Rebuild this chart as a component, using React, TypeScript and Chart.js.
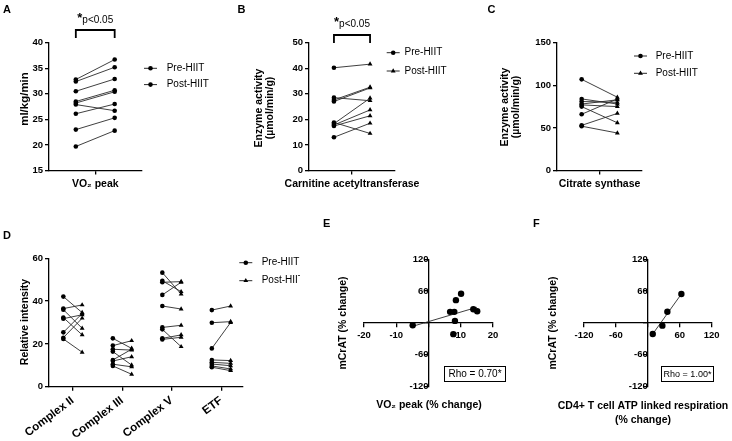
import React, { useEffect, useRef } from 'react';
import { Chart, registerables } from 'chart.js';

Chart.register(...registerables);

const FONT = "'Liberation Sans', Arial, Helvetica, sans-serif";
const INK = '#000';
const LINK = '#2a2a2a';
Chart.defaults.font.family = FONT;
Chart.defaults.color = INK;

// ---------------- data ----------------
const seriesNames = ['Pre-HIIT', 'Post-HIIT'];
const pText = 'p<0.05';

const vo2Category = ['VO₂ peak'];
const vo2Pre = [32.8, 32.4, 30.5, 28.5, 28.2, 27.9, 26.1, 23.0, 19.7];
const vo2Post = [36.7, 35.2, 32.9, 30.7, 30.4, 26.7, 28.0, 25.3, 22.8];
const vo2Axis = [15, 40, 5];

const catCategory = ['Carnitine acetyltransferase'];
const catPre = [40.2, 28.5, 27.6, 27.0, 18.8, 18.3, 17.8, 17.4, 13.0];
const catPost = [41.6, 27.3, 32.6, 32.3, 14.5, 28.3, 23.7, 21.4, 18.5];
const catAxis = [0, 50, 10];

const csCategory = ['Citrate synthase'];
const csPre = [107, 84, 81, 78, 77, 75, 66, 53, 52];
const csPost = [86, 78, 80, 83, 75, 56, 84, 67, 44];
const csAxis = [0, 150, 50];

const complexCategories = ['Complex II', 'Complex III', 'Complex V', 'ETF'];
const c2Pre = [42.1, 36.5, 36.0, 32.3, 31.8, 25.4, 22.9, 22.3];
const c2Post = [34.6, 38.2, 27.3, 24.2, 33.6, 34.2, 32.0, 16.1];
const c3Pre = [22.6, 19.2, 17.5, 16.4, 12.5, 12.0, 10.5, 9.7];
const c3Post = [17.9, 21.5, 17.1, 10.1, 17.5, 14.0, 9.3, 5.8];
const c5Pre = [53.3, 49.5, 48.8, 42.9, 37.7, 27.7, 26.8, 22.6, 22.1];
const c5Post = [43.3, 44.4, 49.1, 48.8, 36.3, 28.7, 18.7, 24.2, 23.1];
const etfPre = [35.8, 29.9, 17.9, 12.5, 11.4, 10.6, 9.7, 9.1];
const etfPost = [37.7, 30.4, 30.0, 12.2, 10.9, 9.8, 8.3, 7.5];
const complexAxis = [0, 60, 20];

const eVo2Change = [-4.9, 6.7, 8.0, 8.5, 10.1, 8.2, 7.7, 13.9, 15.1];
const eMcratChange = [-4.3, 21, 21, 43, 55, 4, -21, 26, 22];
const eFitX = [-4.8, 15];
const eFitY = [-6, 29.6];
const eAxisX = [-20, 20, 10];
const eRho = 'Rho = 0.70*';

const fAtpChange = [9.2, 27.3, 36.7, 63];
const fMcratChange = [-20.7, -5, 21.3, 54.6];
const fFitX = [9.2, 63];
const fFitY = [-20.7, 54.6];
const fAxisX = [-120, 120, 60];
const corrAxisY = [-120, 120, 60];
const fRho = 'Rho = 1.00*';

// ---------------- layout ----------------
const GEOM = [
  { left: 0, top: 0, width: 236, height: 200 },
  { left: 236, top: 0, width: 250, height: 200 },
  { left: 486, top: 0, width: 246, height: 200 },
  { left: 0, top: 200, width: 300, height: 241 },
  { left: 300, top: 200, width: 210, height: 241 },
  { left: 510, top: 200, width: 222, height: 241 },
];
const OFF = 0.21;
const OFF_D = 0.19;

// ---------------- helpers ----------------
function txt(ctx: any, s: string, x: number, y: number, o: any = {}) {
  const { size = 10, bold = false, align = 'center', rot = 0 } = o;
  ctx.save();
  ctx.translate(x, y);
  if (rot) ctx.rotate(rot);
  ctx.font = `${bold ? 'bold ' : ''}${size}px ${FONT}`;
  ctx.fillStyle = INK;
  ctx.textAlign = align;
  ctx.textBaseline = 'middle';
  ctx.fillText(s, 0, 0);
  ctx.restore();
}

function marker(ctx: any, style: string, x: number, y: number, r: number) {
  ctx.beginPath();
  if (style === 'triangle') {
    ctx.moveTo(x, y - r);
    ctx.lineTo(x + 0.866 * r, y + 0.5 * r);
    ctx.lineTo(x - 0.866 * r, y + 0.5 * r);
    ctx.closePath();
  } else {
    ctx.arc(x, y, r, 0, Math.PI * 2);
  }
  ctx.fillStyle = INK;
  ctx.fill();
}

function legendRows(ctx: any, x: number, y: number, gap: number, styles: string[], textX: number) {
  seriesNames.forEach((name, i) => {
    const yy = y + i * gap;
    ctx.strokeStyle = LINK;
    ctx.lineWidth = 1;
    ctx.beginPath();
    ctx.moveTo(x, yy);
    ctx.lineTo(x + 13, yy);
    ctx.stroke();
    marker(ctx, styles[i], x + 6.5, yy, styles[i] === 'triangle' ? 2.8 : 2.3);
    txt(ctx, name, textX, yy, { size: 10, align: 'left' });
  });
}

function sigBracket(ctx: any, x1: number, x2: number, yTop: number, yBot: number, yText: number) {
  ctx.strokeStyle = INK;
  ctx.lineWidth = 1.8;
  ctx.beginPath();
  ctx.moveTo(x1, yBot);
  ctx.lineTo(x1, yTop);
  ctx.lineTo(x2, yTop);
  ctx.lineTo(x2, yBot);
  ctx.stroke();
  ctx.font = `10px ${FONT}`;
  const w = ctx.measureText(pText).width;
  ctx.font = `bold 13px ${FONT}`;
  const ws = ctx.measureText('*').width;
  const start = (x1 + x2) / 2 - (w + ws) / 2;
  txt(ctx, '*', start, yText - 1, { size: 13, bold: true, align: 'left' });
  txt(ctx, pText, start + ws, yText + 1, { size: 10, align: 'left' });
}

function rhoBox(ctx: any, x1: number, y1: number, x2: number, y2: number, label: string, size: number) {
  ctx.strokeStyle = INK;
  ctx.lineWidth = 1;
  ctx.strokeRect(x1 + 0.5, y1 + 0.5, x2 - x1, y2 - y1);
  txt(ctx, label, (x1 + x2) / 2 + 0.5, (y1 + y2) / 2 + 1, { size });
}

function decor(g: any, draw: (ctx: any, chart: any) => void) {
  return {
    id: 'decor',
    afterDraw(chart: any) {
      const ctx = chart.ctx;
      ctx.save();
      ctx.translate(-g.left, -g.top);
      draw(ctx, chart);
      ctx.restore();
    },
  };
}

const gridOpts = () => ({ display: true, drawOnChartArea: false, drawTicks: true, tickLength: 4, color: INK, lineWidth: 1.3 });
const borderOpts = () => ({ display: true, color: INK, width: 1.3 });
const tickFont = (size = 9.5) => ({ family: FONT, size, weight: 'bold' });

function valueAxis(ax: number[], width: number) {
  return {
    type: 'linear', position: 'left', min: ax[0], max: ax[1],
    ticks: { stepSize: ax[2], color: INK, font: tickFont(), padding: 2 },
    grid: gridOpts(), border: borderOpts(),
    afterFit: (s: any) => { s.width = width; },
  };
}

function categoryAxis(labels: string[], min: number, max: number, height: number, rotation: number, size: number) {
  return {
    type: 'linear', position: 'bottom', min, max,
    afterBuildTicks: (s: any) => { s.ticks = labels.map((_l, i) => ({ value: i })); },
    ticks: {
      autoSkip: false, minRotation: rotation, maxRotation: rotation, color: INK, font: tickFont(size), padding: 3,
      callback: (_v: any, i: number) => labels[i],
    },
    grid: gridOpts(), border: borderOpts(),
    afterFit: (s: any) => { s.height = height; },
  };
}

function crossAxis(ax: number[], position: any) {
  return {
    type: 'linear', position, min: ax[0], max: ax[1],
    ticks: { stepSize: ax[2], color: INK, font: tickFont(), padding: 3, callback: (v: number) => (v === 0 ? '' : String(v)) },
    grid: gridOpts(), border: borderOpts(),
  };
}

function paired(pre: number[], post: number[], xc: number, off: number, postStyle: string) {
  return pre.map((v, i) => ({
    data: [{ x: xc - off, y: v }, { x: xc + off, y: post[i] }],
    showLine: true,
    borderColor: LINK,
    borderWidth: 0.9,
    pointBackgroundColor: INK,
    pointBorderColor: INK,
    pointBorderWidth: 0,
    pointStyle: ['circle', postStyle],
    pointRadius: [2.3, postStyle === 'triangle' ? 2.8 : 2.3],
  }));
}

function baseOptions(padding: any, scales: any) {
  return {
    animation: false, responsive: false, maintainAspectRatio: false, devicePixelRatio: 1, events: [],
    layout: { padding },
    plugins: { legend: { display: false }, tooltip: { enabled: false } },
    scales,
  };
}

function buildConfigs() {
  const [gA, gB, gC, gD, gE, gF] = GEOM;
  const bracketX = (chart: any, g: any) => [
    chart.scales.x.getPixelForValue(-OFF) + g.left,
    chart.scales.x.getPixelForValue(OFF) + g.left,
  ];
  const rot = -Math.PI / 2;

  const A = {
    type: 'scatter',
    data: { datasets: paired(vo2Pre, vo2Post, 0, OFF, 'circle') },
    options: baseOptions({ left: 19, right: 94.5, top: 42.7, bottom: 9.5 }, {
      x: categoryAxis(vo2Category, -0.5, 0.5, 20, 0, 10.5),
      y: valueAxis(vo2Axis, 30),
    }),
    plugins: [decor(gA, (ctx, chart) => {
      txt(ctx, 'A', 3, 9.7, { size: 11, bold: true, align: 'left' });
      txt(ctx, 'ml/kg/min', 24.5, 99, { size: 11.5, bold: true, rot });
      const [x1, x2] = bracketX(chart, gA);
      sigBracket(ctx, x1, x2, 30, 38, 19.5);
      legendRows(ctx, 144, 68.3, 16.3, ['circle', 'circle'], 166.7);
    })],
  };

  const B = {
    type: 'scatter',
    data: { datasets: paired(catPre, catPost, 0, OFF, 'triangle') },
    options: baseOptions({ left: 43, right: 91, top: 42.7, bottom: 9.5 }, {
      x: categoryAxis(catCategory, -0.5, 0.5, 20, 0, 10.5),
      y: valueAxis(catAxis, 30),
    }),
    plugins: [decor(gB, (ctx, chart) => {
      txt(ctx, 'B', 237.5, 9.7, { size: 11, bold: true, align: 'left' });
      txt(ctx, 'Enzyme activity', 259.5, 108, { size: 10.5, bold: true, rot });
      txt(ctx, '(µmol/min/g)', 270, 108, { size: 10.5, bold: true, rot });
      const [x1, x2] = bracketX(chart, gB);
      sigBracket(ctx, x1, x2, 35, 43, 23);
      legendRows(ctx, 386.7, 52.7, 18.3, ['circle', 'triangle'], 404.5);
    })],
  };

  const C = {
    type: 'scatter',
    data: { datasets: paired(csPre, csPost, 0, OFF, 'triangle') },
    options: baseOptions({ left: 41, right: 90, top: 42.7, bottom: 9.5 }, {
      x: categoryAxis(csCategory, -0.5, 0.5, 20, 0, 10.5),
      y: valueAxis(csAxis, 30),
    }),
    plugins: [decor(gC, (ctx) => {
      txt(ctx, 'C', 487.5, 9.7, { size: 11, bold: true, align: 'left' });
      txt(ctx, 'Enzyme activity', 505, 107, { size: 10.5, bold: true, rot });
      txt(ctx, '(µmol/min/g)', 516.5, 107, { size: 10.5, bold: true, rot });
      legendRows(ctx, 634, 56, 17.3, ['circle', 'triangle'], 655.7);
    })],
  };

  const dSets = [
    ...paired(c2Pre, c2Post, 0, OFF_D, 'triangle'),
    ...paired(c3Pre, c3Post, 1, OFF_D, 'triangle'),
    ...paired(c5Pre, c5Post, 2, OFF_D, 'triangle'),
    ...paired(etfPre, etfPost, 3, OFF_D, 'triangle'),
  ];
  const D = {
    type: 'scatter',
    data: { datasets: dSets },
    options: baseOptions({ left: 19, right: 57, top: 58.3, bottom: 4.3 }, {
      x: categoryAxis(complexCategories, -0.48, 3.44, 50, 37, 11.5),
      y: valueAxis(complexAxis, 30),
    }),
    plugins: [decor(gD, (ctx) => {
      txt(ctx, 'D', 3, 236, { size: 11, bold: true, align: 'left' });
      txt(ctx, 'Relative intensity', 25.5, 322, { size: 10.5, bold: true, rot });
      legendRows(ctx, 239.3, 262.7, 18, ['circle', 'triangle'], 261.7);
    })],
  };

  const corrSets = (xs: number[], ys: number[], fx: number[], fy: number[]) => [
    {
      data: xs.map((x, i) => ({ x, y: ys[i] })),
      showLine: false, pointRadius: 3.2, pointBackgroundColor: INK, pointBorderColor: INK, pointBorderWidth: 0,
    },
    {
      data: fx.map((x, i) => ({ x, y: fy[i] })),
      showLine: true, pointRadius: 0, borderColor: LINK, borderWidth: 0.9,
    },
  ];

  const E = {
    type: 'scatter',
    data: { datasets: corrSets(eVo2Change, eMcratChange, eFitX, eFitY) },
    options: baseOptions({ left: 64, right: 17, top: 59.3, bottom: 54.3 }, {
      x: crossAxis(eAxisX, { y: 0 }),
      y: crossAxis(corrAxisY, { x: 0 }),
    }),
    plugins: [decor(gE, (ctx) => {
      txt(ctx, 'E', 323, 223.7, { size: 11, bold: true, align: 'left' });
      txt(ctx, 'mCrAT (% change)', 342.7, 323, { size: 10.5, bold: true, rot });
      txt(ctx, 'VO₂ peak (% change)', 429, 405, { size: 10.5, bold: true });
      rhoBox(ctx, 444, 366, 505, 381, eRho, 10);
    })],
  };

  const F = {
    type: 'scatter',
    data: { datasets: corrSets(fAtpChange, fMcratChange, fFitX, fFitY) },
    options: baseOptions({ left: 74, right: 20.3, top: 59.3, bottom: 54.3 }, {
      x: crossAxis(fAxisX, { y: 0 }),
      y: crossAxis(corrAxisY, { x: 0 }),
    }),
    plugins: [decor(gF, (ctx) => {
      txt(ctx, 'F', 533, 223.7, { size: 11, bold: true, align: 'left' });
      txt(ctx, 'mCrAT (% change)', 552.7, 323, { size: 10.5, bold: true, rot });
      txt(ctx, 'CD4+ T cell ATP linked respiration', 643, 406, { size: 10.5, bold: true });
      txt(ctx, '(% change)', 643, 420, { size: 10.5, bold: true });
      rhoBox(ctx, 661, 366, 713, 381, fRho, 9);
    })],
  };

  return [A, B, C, D, E, F];
}

export default function App() {
  const refs = useRef<(HTMLCanvasElement | null)[]>([]);
  useEffect(() => {
    const configs = buildConfigs();
    const charts = configs.map((cfg, i) => new Chart(refs.current[i] as HTMLCanvasElement, cfg as any));
    return () => charts.forEach((c) => c.destroy());
  }, []);
  return (
    <div style={{ position: 'fixed', left: 0, top: 0, width: 732, height: 441, background: '#fff', overflow: 'hidden' }}>
      {GEOM.map((g, i) => (
        <canvas
          key={i}
          ref={(el) => { refs.current[i] = el; }}
          width={g.width}
          height={g.height}
          style={{ position: 'absolute', left: g.left, top: g.top, width: g.width, height: g.height, display: 'block' }}
        />
      ))}
    </div>
  );
}
